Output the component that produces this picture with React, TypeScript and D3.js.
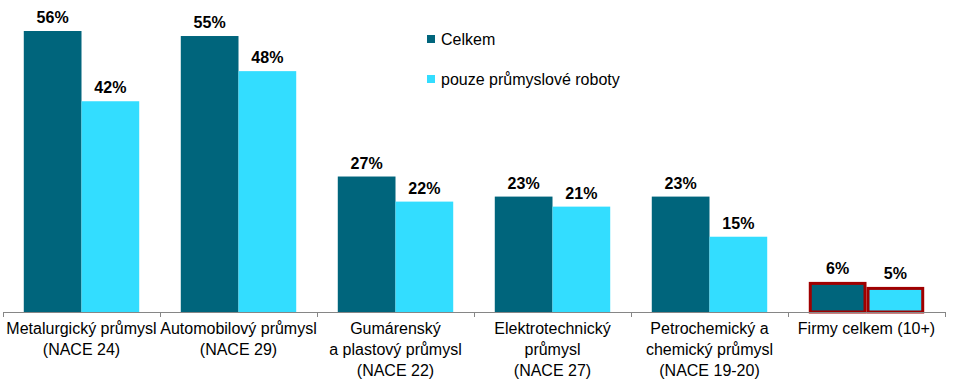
import React from "react";
import * as d3 from "d3";

const categories: string[][] = [
  ["Metalurgický průmysl", "(NACE 24)"],
  ["Automobilový průmysl", "(NACE 29)"],
  ["Gumárenský", "a plastový průmysl", "(NACE 22)"],
  ["Elektrotechnický", "průmysl", "(NACE 27)"],
  ["Petrochemický a", "chemický průmysl", "(NACE 19-20)"],
  ["Firmy celkem (10+)"],
];
const seriesNames = ["Celkem", "pouze průmyslové roboty"];
const celkem = [56, 55, 27, 23, 23, 6];
const roboty = [42, 48, 22, 21, 15, 5];
const colors = ["#00657C", "#33DDFF"];

const W = 953;
const H = 382;
const FONT = "Liberation Sans, Arial, sans-serif";

export default function App() {
  const keys = categories.map((_, i) => String(i));
  const x0 = d3.scaleBand<string>().domain(keys).range([3, 945]).padding(0);
  const x1 = d3
    .scaleBand<string>()
    .domain(["0", "1"])
    .range([0, x0.bandwidth()])
    .paddingInner(0)
    .paddingOuter(0.36);
  const y = d3.scaleLinear().domain([0, 56]).range([312, 31]);
  const series = [celkem, roboty];
  const last = categories.length - 1;

  return (
    <svg width={W} height={H} style={{ position: "absolute", left: 0, top: 0 }}>
      <rect width={W} height={H} fill="#fff" />
      {series.map((vals, s) =>
        vals.map((v, i) => {
          const bx = (x0(String(i)) as number) + (x1(String(s)) as number);
          const bw = x1.bandwidth();
          const isLast = i === last;
          return (
            <g key={`${s}-${i}`}>
              <rect
                x={isLast ? bx + 1.5 : bx}
                y={isLast ? y(v) + 1.5 : y(v)}
                width={isLast ? bw - 3 : bw}
                height={isLast ? y(0) - y(v) - 1.5 : y(0) - y(v)}
                fill={colors[s]}
                stroke={isLast ? "#A00000" : "none"}
                strokeWidth={isLast ? 3 : 0}
              />
              <text
                x={bx + bw / 2}
                y={y(v) - 8}
                textAnchor="middle"
                fontFamily={FONT}
                fontWeight="bold"
                fontSize={16}
                fill="#000"
              >
                {v}%
              </text>
            </g>
          );
        })
      )}
      <line x1={3} x2={945} y1={312.5} y2={312.5} stroke="#868686" strokeWidth={1} />
      {keys.concat(["end"]).map((k, i) => {
        const tx = Math.round(3 + i * x0.step()) + 0.5;
        return <line key={k} x1={tx} x2={tx} y1={312} y2={317} stroke="#868686" />;
      })}
      {categories.map((lines, i) => (
        <text
          key={i}
          x={(x0(String(i)) as number) + x0.bandwidth() / 2}
          y={334}
          textAnchor="middle"
          fontFamily={FONT}
          fontSize={16}
          fill="#000"
        >
          {lines.map((ln, j) => (
            <tspan key={j} x={(x0(String(i)) as number) + x0.bandwidth() / 2} dy={j === 0 ? 0 : 21}>
              {ln}
            </tspan>
          ))}
        </text>
      ))}
      {seriesNames.map((n, s) => (
        <g key={n} transform={`translate(427, ${39 + s * 40})`}>
          <rect x={0} y={-4} width={8} height={8} fill={colors[s]} />
          <text x={14} y={6} fontFamily={FONT} fontSize={16} fill="#000">
            {n}
          </text>
        </g>
      ))}
    </svg>
  );
}
